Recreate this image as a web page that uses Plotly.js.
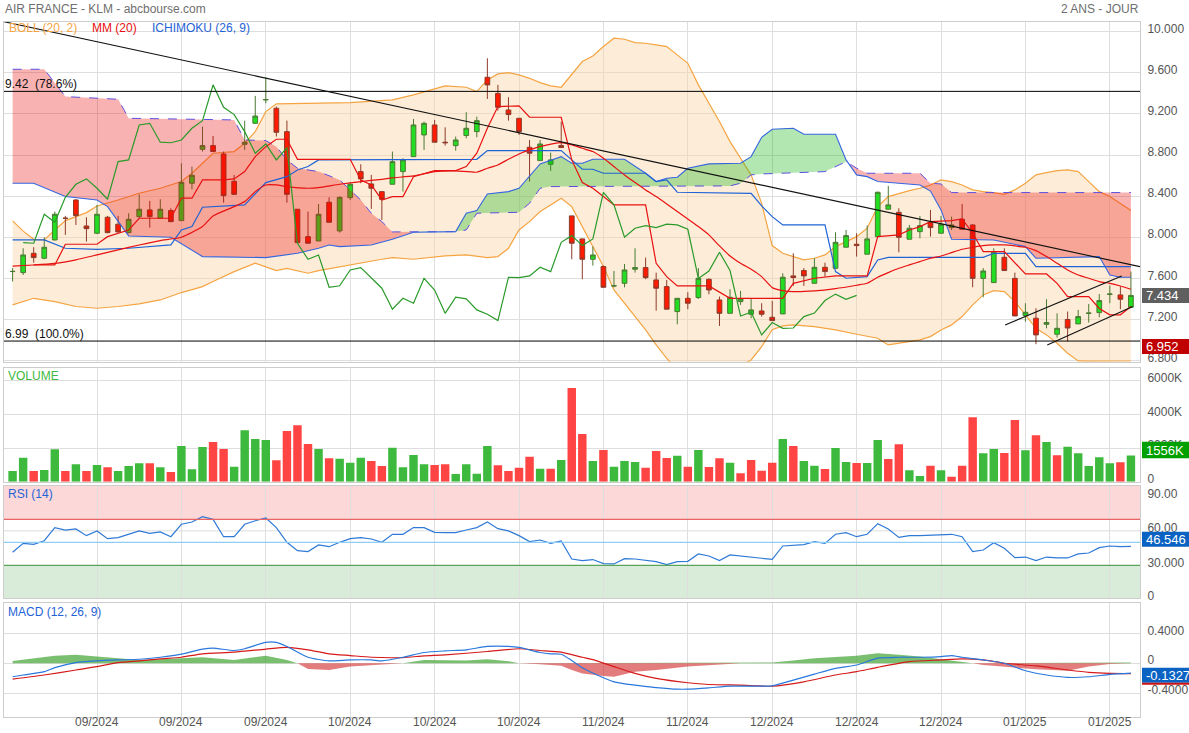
<!DOCTYPE html>
<html><head><meta charset="utf-8">
<script src="https://cdn.plot.ly/plotly-3.0.1.min.js"></script>
<style>html,body{margin:0;padding:0;background:#fff}#chart{width:1189px;height:733px}</style>
</head><body><div id="chart"></div>
<script>
// ---------- DATA ----------
const xTickIdx = [8,16,24,32,40,48,56,64,72,80,88,96,104];
const xTickText = ['09/2024','09/2024','09/2024','10/2024','10/2024','10/2024','11/2024','11/2024','12/2024','12/2024','12/2024','01/2025','01/2025'];

const open = [7.666,7.656,7.844,7.796,7.974,8.185,8.363,8.11,8.039,8.195,8.127,8.045,8.201,8.266,8.185,8.26,8.162,8.526,8.856,8.892,8.811,8.545,8.905,9.109,9.337,9.255,9.028,8.273,8.006,7.964,8.341,8.062,8.386,8.639,8.519,8.444,8.516,8.639,8.785,8.996,9.093,8.925,8.892,8.99,9.028,9.557,9.40,9.239,9.158,8.876,8.746,8.71,8.892,8.208,7.984,7.786,7.715,7.526,7.552,7.689,7.705,7.585,7.52,7.277,7.406,7.413,7.591,7.39,7.26,7.374,7.251,7.283,7.221,7.254,7.624,7.676,7.552,7.708,7.698,7.903,7.932,7.835,8.006,8.273,8.243,7.981,8.055,8.143,8.039,8.094,8.175,8.12,7.60,7.559,7.805,7.60,7.238,7.212,7.153,7.056,7.20,7.157,7.26,7.267,7.445,7.439,7.319];
const high = [7.70,7.893,7.903,8.0,8.25,8.208,8.37,8.195,8.315,8.208,8.208,8.234,8.418,8.354,8.37,8.282,8.72,8.688,9.077,8.986,8.834,8.607,9.135,9.376,9.557,9.272,9.135,8.273,8.25,8.324,8.389,8.396,8.532,8.71,8.607,8.444,8.834,8.769,9.152,9.125,9.142,9.07,8.98,9.217,9.174,9.742,9.483,9.363,9.158,8.947,8.947,8.824,9.125,8.208,7.984,7.909,7.724,7.672,7.74,7.893,7.802,7.656,7.585,7.406,7.465,7.70,7.60,7.423,7.494,7.478,7.40,7.358,7.38,7.65,7.844,7.70,7.796,7.753,8.049,8.071,8.039,8.114,8.444,8.50,8.282,8.12,8.208,8.266,8.208,8.201,8.324,8.127,7.70,7.893,7.893,7.656,7.358,7.309,7.397,7.26,7.277,7.293,7.351,7.448,7.53,7.52,7.666];
const low = [7.57,7.633,7.753,7.786,7.968,8.023,8.12,7.958,8.03,8.039,8.045,8.039,8.185,8.094,8.185,8.152,8.162,8.467,8.834,8.834,8.337,8.418,8.85,9.103,9.304,8.98,8.337,7.942,7.942,7.964,8.146,8.045,8.363,8.526,8.276,8.169,8.516,8.444,8.785,8.85,8.925,8.892,8.843,8.963,8.973,9.346,9.233,9.135,8.996,8.542,8.746,8.646,8.873,7.786,7.591,7.724,7.513,7.513,7.513,7.656,7.591,7.286,7.30,7.153,7.30,7.40,7.445,7.137,7.26,7.342,7.212,7.228,7.189,7.254,7.526,7.526,7.552,7.617,7.698,7.903,7.812,7.835,8.006,8.273,7.854,7.981,7.99,8.006,8.039,8.071,8.078,7.513,7.416,7.559,7.676,7.234,7.179,6.959,7.114,7.024,6.985,7.157,7.17,7.221,7.358,7.30,7.319];
const close = [7.668,7.828,7.802,7.903,8.224,8.185,8.211,8.084,8.224,8.045,8.052,8.175,8.273,8.201,8.273,8.152,8.535,8.603,8.892,8.834,8.405,8.418,8.925,9.18,9.34,9.022,8.418,7.948,7.942,8.224,8.146,8.389,8.516,8.568,8.477,8.37,8.736,8.753,9.093,9.109,8.925,8.92,8.947,9.061,9.135,9.483,9.265,9.194,9.028,8.818,8.908,8.753,8.873,7.942,7.786,7.828,7.513,7.528,7.682,7.705,7.607,7.504,7.30,7.406,7.358,7.60,7.487,7.26,7.416,7.40,7.293,7.251,7.189,7.611,7.608,7.624,7.708,7.666,7.951,8.016,7.919,7.984,8.438,8.315,8.0,8.088,8.114,8.094,8.127,8.12,8.078,7.60,7.672,7.854,7.676,7.234,7.27,7.05,7.17,7.114,7.117,7.228,7.262,7.384,7.447,7.397,7.434];
const volumeK = [634,1426,634,693,1921,634,1030,634,990,851,634,931,1089,1089,851,574,2119,733,2059,2356,1940,891,3049,2534,2475,1267,3010,3346,2237,1940,1386,1366,1129,1426,1228,931,2020,851,1584,1030,990,1030,455,1030,475,2119,970,634,832,1485,772,772,1287,5564,2831,1228,1881,891,1228,1168,832,1822,1406,1544,891,1881,871,1386,1129,495,1287,653,1129,2534,2119,1228,950,752,2000,1168,1109,1109,2475,1346,2218,673,337,950,673,297,950,3821,1683,1940,1703,3663,1861,2752,2356,1564,2079,1683,931,1445,1089,1148,1556];
const rsi = [41.3,49.1,48.3,51.4,62.8,60.7,61.6,55.8,59.9,53.2,54.1,57,59.9,57.8,59,54.9,65.7,67.7,72.3,70,54.9,54.9,65.7,68.8,71.2,62.8,50,42.8,41.9,47.7,46.2,50,53.2,54.1,52.9,50,57,57,62.8,62.8,58.7,58.4,58.4,60.7,62.8,67.7,61.9,59.9,55.8,50.6,52,49.1,51.2,35.5,34.1,35,31.5,31.2,35.8,35.5,34.6,33.2,30.6,33.2,33.5,39.9,38.1,34.1,39,38.1,36.7,35.8,35.2,46.8,47.1,48,50.6,49.1,57,58.4,54.9,57,66.2,61.6,54.3,55.8,55.8,56.1,57,57,54.9,41.9,43.3,49.7,44.8,36.7,37.2,34.1,37.2,36.4,36.4,39.9,40.7,45.4,46.8,46.2,46.546];

// Bollinger (20,2)
const bollUpIdx = [0,1,2,3,4,5,7,8,10,12,14,16,17,18,19,21,22,23,24,25,28,32,36,38,41,43,44,45,46,47,48,49,50,51,52,53,54,55,56,57,58,59,60,61,62,63,64,65,66,67,68,69,70,71,72,73,74,75,76,77,78,79,80,81,82,83,84,85,86,87,88,89,90,91,92,93,94,95,96,97,98,99,100,101,102,103,104,105,106];
const bollUp = [8.159,8.06,7.98,7.974,8.071,8.162,8.24,8.305,8.363,8.428,8.477,8.542,8.623,8.72,8.818,8.834,8.915,9.028,9.223,9.298,9.304,9.31,9.337,9.385,9.473,9.46,9.418,9.531,9.59,9.603,9.58,9.547,9.505,9.473,9.46,9.58,9.71,9.765,9.856,9.937,9.927,9.895,9.888,9.872,9.856,9.775,9.693,9.483,9.304,9.126,8.931,8.769,8.607,8.33,7.919,7.844,7.812,7.78,7.796,7.828,7.909,7.958,8.006,8.088,8.298,8.396,8.428,8.454,8.477,8.509,8.558,8.542,8.509,8.461,8.444,8.435,8.418,8.461,8.526,8.607,8.629,8.649,8.655,8.639,8.542,8.444,8.396,8.331,8.26];
const bollLoIdx = [0,2,4,6,8,10,12,14,16,18,19,21,23,24,25,26,28,29,31,33,35,36,38,41,43,45,46,47,48,49,50,51,52,53,54,55,56,57,58,59,60,61,62,63,64,65,66,67,68,69,70,71,72,73,74,76,78,80,82,83,84,86,87,88,89,90,91,92,93,94,95,96,97,98,99,100,101,102,103,104,105,106];
const bollLo = [7.342,7.406,7.374,7.326,7.309,7.326,7.351,7.39,7.462,7.52,7.569,7.666,7.747,7.715,7.676,7.698,7.65,7.676,7.715,7.747,7.786,7.802,7.786,7.818,7.828,7.802,7.812,7.893,8.071,8.152,8.25,8.315,8.38,8.298,8.104,7.909,7.715,7.487,7.358,7.228,7.098,6.952,6.822,6.709,6.644,6.611,6.611,6.66,6.741,6.751,6.806,6.935,7.10,7.137,7.147,7.131,7.098,7.056,7.017,6.952,6.968,7.001,7.033,7.098,7.147,7.228,7.342,7.439,7.481,7.471,7.374,7.244,7.114,7.05,6.968,6.871,6.797,6.795,6.794,6.794,6.795,6.796];
// MM (20)
const ma20Idx = [0,2,4,6,8,10,12,14,16,18,19,21,22,23,24,25,26,28,29,31,33,35,36,38,40,42,44,45,46,47,48,49,50,52,53,54,55,56,57,58,59,60,61,62,63,64,65,66,67,68,69,70,71,72,73,74,76,78,80,81,82,83,84,85,86,87,88,89,90,91,92,93,94,95,96,97,98,99,100,101,102,103,104,105,106];
const ma20 = [7.72,7.73,7.745,7.78,7.828,7.877,7.925,7.968,8.0,8.104,8.208,8.298,8.347,8.444,8.509,8.509,8.493,8.477,8.483,8.516,8.542,8.564,8.578,8.597,8.639,8.646,8.633,8.672,8.704,8.759,8.811,8.85,8.882,8.921,8.899,8.866,8.834,8.769,8.688,8.607,8.532,8.461,8.396,8.324,8.25,8.178,8.104,8.023,7.916,7.818,7.747,7.689,7.617,7.51,7.481,7.471,7.478,7.5,7.533,7.552,7.611,7.656,7.698,7.731,7.763,7.796,7.818,7.851,7.883,7.903,7.919,7.925,7.925,7.916,7.903,7.87,7.812,7.747,7.682,7.633,7.601,7.569,7.552,7.526,7.494];
// Ichimoku (26, 9)
const tenkanIdx = [2,4,5,8,9,10,11,12,15,16,17,18,20,21,22,23,24,25,26,27,32,33,34,35,36,37,38,40,42,43,44,45,46,48,49,52,53,54,55,56,57,60,61,62,63,66,68,73,74,76,78,81,82,84,85,86,87,89,90,91,92,94,95,96,98,99,100,102,103,104,105,106];
const tenkan = [7.731,7.731,7.932,7.932,8.006,8.039,8.071,8.185,8.185,8.38,8.38,8.558,8.558,8.568,8.639,8.785,8.882,8.954,8.954,8.759,8.759,8.558,8.509,8.363,8.396,8.396,8.59,8.649,8.649,8.688,8.818,9.061,9.272,9.278,9.168,9.168,8.753,8.532,8.477,8.396,8.315,8.315,7.747,7.617,7.526,7.526,7.406,7.406,7.552,7.601,7.624,7.624,8.006,8.023,8.071,8.104,8.152,8.162,8.178,8.039,7.861,7.861,7.747,7.643,7.643,7.552,7.423,7.423,7.307,7.245,7.245,7.326];
const kijunIdx = [0,3,5,8,11,15,16,17,18,22,24,26,27,28,29,44,45,52,53,54,55,56,60,61,62,63,70,71,72,73,77,78,79,81,82,83,92,93,96,97,106];
const kijun = [7.974,7.974,7.893,7.883,7.893,7.925,8.071,8.104,8.292,8.315,8.532,8.59,8.655,8.688,8.753,8.759,8.843,8.843,8.753,8.662,8.662,8.623,8.623,8.542,8.558,8.438,8.428,8.305,8.201,8.12,8.12,7.666,7.601,7.617,7.779,7.805,7.805,7.844,7.844,7.715,7.715];
const senkouAIdx = [0,2,5,8,9,11,15,18,24,27,29,30,31,34,36,38,42,43,44,45,47,48,50,52,53,54,55,58,60,61,62,63,64,66,69,70,71,72,74,75,78,79,80,81,82,86,87,88,89,93,96,97,103,104,105,106];
const senkouA = [8.526,8.526,8.396,8.363,8.298,8.013,8.0,7.812,7.802,7.844,7.893,7.925,7.909,7.925,7.98,8.049,8.055,8.234,8.26,8.422,8.444,8.477,8.714,8.785,8.72,8.72,8.759,8.759,8.623,8.542,8.574,8.584,8.672,8.714,8.72,8.785,8.973,9.051,9.061,9.002,9.002,8.753,8.607,8.59,8.542,8.509,8.45,8.266,7.981,7.974,7.909,7.796,7.812,7.633,7.611,7.611];
const senkouBIdx = [0,3,5,10,11,18,21,22,24,25,26,27,29,31,32,33,34,35,36,38,42,43,44,48,49,50,51,68,69,70,71,77,78,79,80,81,86,87,88,89,106];
const senkouB = [9.635,9.635,9.369,9.343,9.158,9.148,9.142,8.947,8.941,8.882,8.753,8.672,8.639,8.558,8.461,8.363,8.234,8.152,8.052,8.053,8.055,8.071,8.234,8.243,8.331,8.477,8.493,8.50,8.526,8.607,8.616,8.639,8.688,8.736,8.672,8.623,8.623,8.526,8.519,8.435,8.435];
const chikouShift = 26;

// Fibonacci levels, trend lines, marked level
const fibLevels = [9.42, 6.99];
const fibLabels = ['9.42  (78.6%)', '6.99  (100.0%)'];
const trendDownX = [-0.815, 106.86], trendDownY = [10.098, 7.714];
const channelUpX = [94.07, 105.13], channelUpY = [7.146, 7.623];
const channelLoX = [98.07, 106.17], channelLoY = [6.952, 7.325];
const markLow = 6.952;

// MACD (12, 26, 9)
const macdIdx = [0,1,3,4,6,8,10,12,14,16,18,19,21,22,24,25,26,28,30,32,34,35,37,39,41,43,45,47,48,50,51,52,53,54,55,57,59,61,63,64,66,68,70,72,74,76,78,80,82,84,86,88,89,90,92,94,96,98,100,102,104,106];
const macd = [-0.181,-0.158,-0.113,-0.059,0.009,0.032,0.045,0.054,0.081,0.122,0.19,0.204,0.172,0.195,0.281,0.281,0.226,0.081,0.032,0.045,0.045,0.032,0.081,0.145,0.167,0.181,0.226,0.226,0.213,0.145,0.127,0.122,0.036,-0.059,-0.13,-0.249,-0.294,-0.326,-0.348,-0.348,-0.33,-0.308,-0.308,-0.303,-0.226,-0.145,-0.068,-0.023,0.068,0.081,0.081,0.09,0.104,0.081,0.045,0.0,-0.1,-0.158,-0.19,-0.181,-0.15,-0.1327];
const signalIdx = [0,3,6,8,10,12,14,16,18,21,24,26,28,30,32,34,37,39,41,45,48,50,52,54,55,57,59,61,64,66,69,72,75,78,80,82,85,88,90,92,94,97,100,102,104,106];
const signal = [-0.213,-0.158,-0.09,-0.045,0.009,0.032,0.059,0.081,0.127,0.149,0.19,0.213,0.181,0.127,0.104,0.081,0.077,0.1,0.113,0.158,0.195,0.172,0.149,0.081,0.05,-0.045,-0.136,-0.204,-0.262,-0.285,-0.294,-0.308,-0.249,-0.158,-0.113,-0.054,0.023,0.045,0.059,0.045,0.0,-0.036,-0.09,-0.122,-0.136,-0.138];
const histIdx = [0,4,6,8,10,12,14,16,18,21,24,26,27,28,30,32,34,37,39,41,43,45,47,48,50,52,53,54,56,57,59,61,64,66,69,72,74,76,80,82,84,86,88,90,91,92,94,97,100,102,104,105,106];
const hist = [0.032,0.1,0.113,0.09,0.059,0.045,0.054,0.063,0.081,0.045,0.1,0.045,0,-0.077,-0.09,-0.045,-0.027,0,0.045,0.036,0.036,0.054,0.027,0,-0.014,-0.032,-0.09,-0.136,-0.172,-0.181,-0.113,-0.09,-0.045,-0.023,0,0.01,0.036,0.068,0.1,0.136,0.113,0.09,0.054,0.014,0,-0.023,-0.045,-0.081,-0.1,-0.045,-0.01,0,0.01];

// ---------- BUILD ----------
const idx = close.map((_, i) => i);
const last = close.length - 1;
const GREEN = '#3dba3d', RED = '#ff4444';
const volColors = close.map((c, i) => (i === 0 || c >= close[i - 1]) ? GREEN : RED);

function seg(ix, vals, a, b) {
  const x = [], y = [];
  ix.forEach((v, k) => { if (v >= a && v <= b) { x.push(v); y.push(vals[k]); } });
  return {x, y};
}
const cloudSegs = [[0, 38, 'rgba(235,0,0,0.30)'], [38, 79, 'rgba(0,175,0,0.30)'], [79, 106, 'rgba(235,0,0,0.30)']];

const traces = [];
traces.push({x: bollLoIdx, y: bollLo, type: 'scatter', mode: 'lines', line: {color: '#f5a442', width: 1.2}, xaxis: 'x', yaxis: 'y', hoverinfo: 'skip'});
traces.push({x: bollUpIdx, y: bollUp, type: 'scatter', mode: 'lines', fill: 'tonexty', fillcolor: 'rgba(251,214,168,0.45)', line: {color: '#f5a442', width: 1.2}, xaxis: 'x', yaxis: 'y', hoverinfo: 'skip'});
traces.push({type: 'candlestick', x: idx, open: open, high: high, low: low, close: close, xaxis: 'x', yaxis: 'y5',
  increasing: {line: {color: '#4b7a33', width: 1}, fillcolor: '#22dd22'},
  decreasing: {line: {color: '#8e3a2a', width: 1}, fillcolor: '#ff1a00'}, hoverinfo: 'skip'});
cloudSegs.forEach(s => {
  const b = seg(senkouBIdx, senkouB, s[0], s[1]);
  const a = seg(senkouAIdx, senkouA, s[0], s[1]);
  traces.push({x: b.x, y: b.y, type: 'scatter', mode: 'lines', line: {width: 0}, xaxis: 'x', yaxis: 'y5', hoverinfo: 'skip'});
  traces.push({x: a.x, y: a.y, type: 'scatter', mode: 'lines', line: {width: 0}, fill: 'tonexty', fillcolor: s[2], xaxis: 'x', yaxis: 'y5', hoverinfo: 'skip'});
});
traces.push({x: senkouBIdx, y: senkouB, type: 'scatter', mode: 'lines', line: {color: '#5b4fe0', width: 1, dash: 'dash'}, xaxis: 'x', yaxis: 'y5', hoverinfo: 'skip'});
traces.push({x: senkouAIdx, y: senkouA, type: 'scatter', mode: 'lines', line: {color: '#3566e0', width: 1.1}, xaxis: 'x', yaxis: 'y5', hoverinfo: 'skip'});
traces.push({x: kijunIdx, y: kijun, type: 'scatter', mode: 'lines', line: {color: '#1f63d6', width: 1.2}, xaxis: 'x', yaxis: 'y5', hoverinfo: 'skip'});
traces.push({x: ma20Idx, y: ma20, type: 'scatter', mode: 'lines', line: {color: '#e81010', width: 1.2, shape: 'spline', smoothing: 0.5}, xaxis: 'x', yaxis: 'y5', hoverinfo: 'skip'});
traces.push({x: tenkanIdx, y: tenkan, type: 'scatter', mode: 'lines', line: {color: '#e81010', width: 1.2}, xaxis: 'x', yaxis: 'y5', hoverinfo: 'skip'});
traces.push({x: idx.slice(chikouShift + 1).map(i => i - chikouShift), y: close.slice(chikouShift + 1), type: 'scatter', mode: 'lines', line: {color: '#2a9a2a', width: 1.2}, xaxis: 'x', yaxis: 'y5', hoverinfo: 'skip'});
traces.push({x: idx, y: volumeK, type: 'bar', marker: {color: volColors, line: {width: 0}}, xaxis: 'x2', yaxis: 'y2', hoverinfo: 'skip'});
traces.push({x: idx, y: rsi, type: 'scatter', mode: 'lines', line: {color: '#2f7ad6', width: 1.2}, xaxis: 'x3', yaxis: 'y3', hoverinfo: 'skip'});
traces.push({x: histIdx, y: hist.map(v => v > 0 ? v : 0), type: 'scatter', mode: 'lines', line: {width: 0}, fill: 'tozeroy', fillcolor: 'rgba(70,165,55,0.72)', xaxis: 'x4', yaxis: 'y4', hoverinfo: 'skip'});
traces.push({x: histIdx, y: hist.map(v => v < 0 ? v : 0), type: 'scatter', mode: 'lines', line: {width: 0}, fill: 'tozeroy', fillcolor: 'rgba(210,45,45,0.62)', xaxis: 'x4', yaxis: 'y4', hoverinfo: 'skip'});
traces.push({x: signalIdx, y: signal, type: 'scatter', mode: 'lines', line: {color: '#d61a1a', width: 1.2, shape: 'spline', smoothing: 0.6}, xaxis: 'x4', yaxis: 'y4', hoverinfo: 'skip'});
traces.push({x: macdIdx, y: macd, type: 'scatter', mode: 'lines', line: {color: '#2a78dc', width: 1.2, shape: 'spline', smoothing: 0.6}, xaxis: 'x4', yaxis: 'y4', hoverinfo: 'skip'});

// ---------- LAYOUT ----------
const FONT = 'Liberation Sans, Arial, sans-serif';
const XR = [-0.815, 106.86];
const GRID = '#dedede', FRAME = '#cdcdcd';
function xax(anchor) {
  return {range: XR, anchor: anchor, tickvals: xTickIdx, showticklabels: false,
    showgrid: true, gridcolor: GRID, zeroline: false, showline: true, mirror: true, linecolor: FRAME, linewidth: 1,
    ticks: '', fixedrange: true, rangeslider: {visible: false}};
}
function yax(anchor, domain, range, vals, text, grid) {
  return {domain: domain, range: range, anchor: anchor, side: 'right', tickvals: vals, ticktext: text,
    showgrid: grid, gridcolor: GRID, zeroline: false, showline: true, mirror: true, linecolor: FRAME, linewidth: 1,
    ticks: '', ticklabelstandoff: 4, ticklabelshift: -3, tickfont: {family: FONT, size: 12, color: '#555'}, fixedrange: true};
}
const priceRange = [6.789, 10.095];
const priceTicks = [6.8,7.2,7.6,8.0,8.4,8.8,9.2,9.6,10.0];
const priceTickText = ['6.800','7.200','7.600','8.000','8.400','8.800','9.200','9.600','10.000'];

const px = p => (p - 4) / 1136;
const py = p => (717 - p) / 695;

const shapes = [];
fibLevels.forEach(v => shapes.push({type: 'line', xref: 'paper', x0: 0, x1: 1, yref: 'y', y0: v, y1: v, line: {color: '#000', width: 1}}));
[[trendDownX, trendDownY], [channelUpX, channelUpY], [channelLoX, channelLoY]].forEach(t =>
  shapes.push({type: 'line', xref: 'x', yref: 'y', x0: t[0][0], x1: t[0][1], y0: t[1][0], y1: t[1][1], line: {color: '#111', width: 1.1}}));
shapes.push({type: 'rect', xref: 'paper', x0: 0, x1: 1, yref: 'y3', y0: 70, y1: 99, fillcolor: '#fdd8d8', line: {width: 0}, layer: 'below'});
shapes.push({type: 'rect', xref: 'paper', x0: 0, x1: 1, yref: 'y3', y0: 1.3, y1: 30, fillcolor: '#d9ecd9', line: {width: 0}, layer: 'below'});
shapes.push({type: 'line', xref: 'paper', x0: 0, x1: 1, yref: 'y3', y0: 60, y1: 60, line: {color: '#dcdcdc', width: 1}, layer: 'below'});
shapes.push({type: 'line', xref: 'paper', x0: 0, x1: 1, yref: 'y3', y0: 70, y1: 70, line: {color: '#e86464', width: 1.2}});
shapes.push({type: 'line', xref: 'paper', x0: 0, x1: 1, yref: 'y3', y0: 30, y1: 30, line: {color: '#58a558', width: 1.2}});
shapes.push({type: 'line', xref: 'paper', x0: 0, x1: 1, yref: 'y3', y0: 50, y1: 50, line: {color: '#90cdf6', width: 1.2}});
function box(yref, val, up, down, color) {
  shapes.push({type: 'rect', xref: 'paper', x0: px(1142), x1: px(1195), yref: yref, ysizemode: 'pixel', yanchor: val, y0: -down, y1: up, fillcolor: color, line: {width: 0}});
}
box('y', close[last], 7.5, 7.5, '#5f5f5f');
box('y', markLow, 6, 9, '#c00000');
box('y2', volumeK[last], 13.8, 2.8, '#00a000');
box('y3', rsi[last], 14.6, 0.4, '#0a62c2');
box('y4', macd[macd.length - 1], 5.5, 9.5, '#0a62c2');
shapes.push({type: 'rect', xref: 'paper', x0: px(1142), x1: px(1195), yref: 'y4', ysizemode: 'pixel', yanchor: macd[macd.length - 1], y0: -11.5, y1: -9.5, fillcolor: '#d01010', line: {width: 0}});

const annotations = [];
function txt(x, y, text, color, size, xanchor) {
  annotations.push({xref: 'paper', yref: 'paper', x: x, y: y, text: text, showarrow: false, xanchor: xanchor || 'left', yanchor: 'middle',
    borderpad: 0, font: {family: FONT, size: size, color: color}});
}
txt(0, py(9), 'AIR FRANCE - KLM - abcbourse.com', '#6f6f6f', 12);
txt(1, py(9), '2 ANS - JOUR', '#6f6f6f', 12, 'right');
txt(px(8), py(28), 'BOLL (20, 2)', '#f5a442', 12);
txt(px(91), py(28), 'MM (20)', '#e81010', 12);
txt(px(151), py(28), 'ICHIMOKU (26, 9)', '#1f63d6', 12);
txt(px(7), py(376), 'VOLUME', '#3dba3d', 12);
txt(px(7), py(494), 'RSI (14)', '#1f63d6', 12);
txt(px(7), py(612), 'MACD (12, 26, 9)', '#1f63d6', 12);
fibLevels.forEach((v, k) => annotations.push({xref: 'paper', yref: 'y', x: 0, y: v, text: fibLabels[k], showarrow: false, xanchor: 'left', yanchor: 'bottom', yshift: -1, borderpad: 0,
  font: {family: FONT, size: 12, color: '#111'}}));
xTickIdx.forEach((v, k) => annotations.push({xref: 'x4', yref: 'paper', x: v, y: py(722.5), text: xTickText[k], showarrow: false, xanchor: 'center', yanchor: 'middle', borderpad: 0,
  font: {family: FONT, size: 12, color: '#555'}}));
function valTxt(yref, val, text, shift) {
  annotations.push({xref: 'paper', yref: yref, x: px(1145), y: val, text: text, showarrow: false, xanchor: 'left', yanchor: 'middle', yshift: shift, borderpad: 0,
    font: {family: FONT, size: 13, color: '#fff'}});
}
valTxt('y', close[last], close[last].toFixed(3), 0);
valTxt('y', markLow, markLow.toFixed(3), -1.5);
valTxt('y2', volumeK[last], volumeK[last] + 'K', 5.5);
valTxt('y3', rsi[last], rsi[last].toFixed(3), 7.1);
valTxt('y4', macd[macd.length - 1], macd[macd.length - 1].toFixed(4), -2);

const layout = {
  width: 1189, height: 733, margin: {l: 4, r: 49, t: 22, b: 16}, paper_bgcolor: '#fff', plot_bgcolor: '#fff',
  showlegend: false, bargap: 0.2, boxgap: 0.36, font: {family: FONT},
  xaxis: xax('y'), xaxis2: Object.assign(xax('y2'), {matches: 'x'}),
  xaxis3: Object.assign(xax('y3'), {matches: 'x'}), xaxis4: Object.assign(xax('y4'), {matches: 'x'}),
  yaxis: yax('x', [py(361.7), 1], priceRange, priceTicks, priceTickText, true),
  yaxis5: {overlaying: 'y', anchor: 'x', range: priceRange, visible: false, fixedrange: true},
  yaxis2: yax('x2', [py(481.7), py(368.3)], [0, 6736], [0, 2000, 4000, 6000], ['0', '2000K', '4000K', '6000K'], true),
  yaxis3: yax('x3', [py(598.3), py(486)], [1.3, 99], [1.3, 30, 60, 90], ['0', '30.000', '60.00', '90.00'], false),
  yaxis4: yax('x4', [0, py(603)], [-0.722, 0.81], [-0.4, 0, 0.4], ['-0.4000', '0', '0.4000'], true),
  shapes: shapes, annotations: annotations
};
Plotly.newPlot('chart', traces, layout, {displayModeBar: false, staticPlot: true});
</script></body></html>
